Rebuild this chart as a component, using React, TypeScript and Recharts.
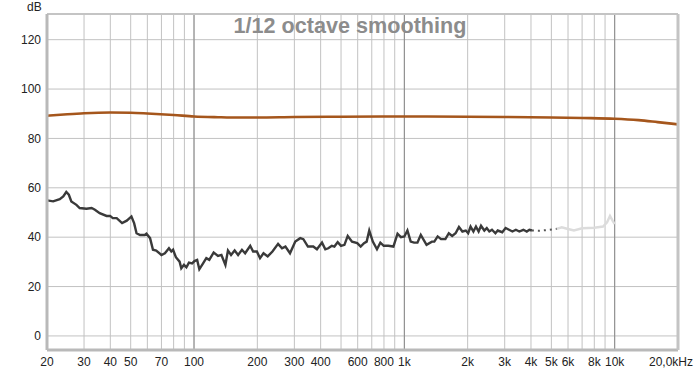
import React from "react";
import { LineChart, Line, XAxis, YAxis, CartesianGrid, ReferenceLine } from "recharts";

const gridFreqs = [
  20, 30, 40, 50, 60, 70, 80, 90, 100, 200, 300, 400, 500, 600, 700, 800, 900, 1000,
  2000, 3000, 4000, 5000, 6000, 7000, 8000, 9000, 10000, 20000,
];
const tickLabels: Record<number, string> = {
  20: "20", 30: "30", 40: "40", 50: "50", 70: "70", 100: "100", 200: "200", 300: "300",
  400: "400", 600: "600", 800: "800", 1000: "1k", 2000: "2k", 3000: "3k", 4000: "4k",
  5000: "5k", 6000: "6k", 8000: "8k", 10000: "10k", 20000: "20,0kHz",
};
const decadeFreqs = [100, 1000, 10000];
const yTicks = [0, 20, 40, 60, 80, 100, 120];

const brownFreqs = [20, 25, 30, 40, 50, 60, 80, 100, 130, 150, 200, 300, 500, 1000, 2000, 3000, 5000, 7000, 10000, 13000, 16000, 20000];
const brownDb = [89.2, 89.8, 90.2, 90.5, 90.4, 90.1, 89.5, 88.9, 88.6, 88.5, 88.5, 88.7, 88.8, 88.9, 88.8, 88.7, 88.5, 88.3, 88.0, 87.4, 86.6, 85.7];

const darkFreqs = [
  20, 21.4, 23, 23.9, 24.7, 25.4, 26.1, 27.6, 28.6, 30.8, 32.6, 33.8, 35.6, 38.4, 39.9, 41.1, 42.9,
  45.5, 47.9, 50.4, 51.9, 53.3, 55.4, 58.3, 59.4, 61.8, 63.8, 66.1, 70, 72.7, 76, 78, 79.5, 82,
  85.4, 87, 89.6, 92, 94.6, 97.9, 100.5, 103.5, 106, 110.6, 114.4, 118.2, 124, 130, 135, 141, 145,
  150, 156, 162, 169, 175, 185, 191, 199, 206, 214, 224, 236, 251, 262, 272, 286, 303, 320, 331,
  348, 369, 384, 406, 421, 435, 452, 465, 482, 500, 519, 538, 564, 597, 620, 643, 662, 681, 708,
  741, 769, 798, 839, 887, 928, 963, 1000, 1034, 1072, 1112, 1154, 1197, 1275, 1352, 1388, 1440,
  1494, 1567, 1627, 1688, 1752, 1818, 1888, 1959, 2011, 2065, 2130, 2190, 2255, 2315, 2400, 2465,
  2535, 2610, 2710, 2780, 2920, 3030, 3145, 3265, 3390, 3520, 3680, 3820, 3930, 4040,
];
const darkDb = [
  54.9, 54.5, 55.4, 56.5, 58.3, 57.2, 54.5, 53.1, 51.8, 51.5, 51.8, 51.1, 49.7, 48.6, 48.6, 47.7, 47.7,
  45.7, 46.7, 48.4, 45.7, 41.6, 40.9, 40.9, 41.4, 39.6, 34.9, 34.6, 32.8, 33.5, 35.5, 34.2, 34.9, 31.9,
  30.1, 27.4, 28.8, 27.8, 29.7, 29.4, 30.3, 30.8, 27.0, 29.5, 31.5, 30.8, 33.8, 32.4, 32.8, 28.8, 34.6,
  32.8, 34.6, 32.8, 34.9, 33.5, 36.5, 34.2, 34.2, 31.5, 33.5, 32.2, 34.2, 37.3, 35.5, 36.2, 33.5, 38.2, 39.6, 39.2,
  36.2, 36.2, 35.1, 37.8, 35.1, 35.5, 36.5, 36.2, 38.0, 36.5, 36.9, 40.5, 38.2, 37.6, 36.2, 37.6, 38.2, 42.7, 38.2,
  35.1, 37.8, 36.5, 36.5, 36.2, 41.4, 40.0, 40.3, 42.7, 38.2, 37.8, 37.8, 40.9, 36.9, 38.2, 38.2, 40.3,
  39.2, 39.2, 41.6, 40.5, 41.6, 44.1, 42.3, 42.7, 41.6, 44.3, 42.3, 44.3, 42.3, 44.6, 42.7, 43.7,
  42.3, 43.0, 41.6, 42.7, 42.0, 43.7, 43.0, 42.3, 43.0, 42.3, 43.0, 42.3, 43.0, 42.7,
];

const fadeFreqs = [4040, 4400, 4800, 5300];
const fadeDb = [42.7, 42.6, 42.9, 43.4];

const lightFreqs = [5300, 5600, 6000, 6400, 7000, 8000, 8800, 9200, 9500, 9800, 10000];
const lightDb = [43.4, 44.0, 43.3, 42.7, 43.6, 43.8, 44.3, 46.0, 48.6, 46.5, 45.3];

const zip = (f: number[], v: number[]) => f.map((freq, i) => ({ f: freq, v: v[i] }));
const brownData = zip(brownFreqs, brownDb);
const darkData = zip(darkFreqs, darkDb);
const fadeData = zip(fadeFreqs, fadeDb);
const lightData = zip(lightFreqs, lightDb);

const FONT = "'Liberation Sans', Arial, sans-serif";

const XTick = (props: any) => {
  const { x, y, payload } = props;
  const label = tickLabels[payload.value];
  if (!label) return <g />;
  const isLast = payload.value === 20000;
  return (
    <text
      x={isLast ? x + 15 : x}
      y={y}
      dy="0.71em"
      textAnchor={isLast ? "end" : "middle"}
      fontSize={12}
      fontFamily={FONT}
      fill="#222"
    >
      {label}
    </text>
  );
};

export default function App() {
  return (
    <div style={{ position: "absolute", left: 0, top: 0, width: 700, height: 373, background: "#fff" }}>
      <LineChart width={700} height={373} margin={{ top: 0, right: 0, bottom: 0, left: 0 }}>
        <CartesianGrid stroke="#c2c2c2" strokeWidth={1} />
        <XAxis
          dataKey="f"
          type="number"
          scale="log"
          domain={[20, 20000]}
          ticks={gridFreqs}
          tick={<XTick />}
          tickLine={false}
          tickSize={0}
          tickMargin={7}
          height={23}
          interval={0}
          allowDataOverflow
          axisLine={{ stroke: "#b9b9b9", strokeWidth: 3 }}
        />
        <XAxis
          xAxisId="top"
          orientation="top"
          dataKey="f"
          type="number"
          scale="log"
          domain={[20, 20000]}
          height={14}
          tick={false}
          tickLine={false}
          axisLine={{ stroke: "#c4c4c4", strokeWidth: 2 }}
        />
        <YAxis
          type="number"
          domain={[-5.7, 130.4]}
          ticks={yTicks}
          width={47}
          tickLine={false}
          tickSize={0}
          tickMargin={6}
          allowDataOverflow
          interval={0}
          tick={{ fontSize: 12, fontFamily: FONT, fill: "#222" }}
          axisLine={{ stroke: "#b9b9b9", strokeWidth: 3 }}
        />
        <YAxis
          yAxisId="right"
          orientation="right"
          type="number"
          domain={[-5.7, 130.4]}
          width={22}
          tick={false}
          tickLine={false}
          axisLine={{ stroke: "#c4c4c4", strokeWidth: 3 }}
        />
        {decadeFreqs.map((f) => (
          <ReferenceLine key={f} x={f} stroke="#8a8a8a" strokeWidth={1} />
        ))}
        <Line data={lightData} dataKey="v" type="linear" stroke="#dcdcdc" strokeWidth={2.4} dot={false} isAnimationActive={false} />
        <Line data={fadeData} dataKey="v" type="linear" stroke="#555" strokeWidth={2} strokeDasharray="2 4" dot={false} isAnimationActive={false} />
        <Line data={darkData} dataKey="v" type="linear" stroke="#3a3a3a" strokeWidth={2.4} dot={false} isAnimationActive={false} />
        <Line data={brownData} dataKey="v" type="monotone" stroke="#a5561c" strokeWidth={2.6} dot={false} isAnimationActive={false} />
      </LineChart>
      <div
        style={{
          position: "absolute",
          left: 0,
          width: 700,
          top: 13,
          textAlign: "center",
          fontFamily: FONT,
          fontWeight: "bold",
          fontSize: 21.6,
          lineHeight: "26px",
          color: "#8c8c8c",
        }}
      >
        1/12 octave smoothing
      </div>
      <div
        style={{
          position: "absolute",
          left: 27,
          top: 0,
          fontFamily: FONT,
          fontSize: 12,
          lineHeight: "14px",
          color: "#222",
        }}
      >
        dB
      </div>
    </div>
  );
}
